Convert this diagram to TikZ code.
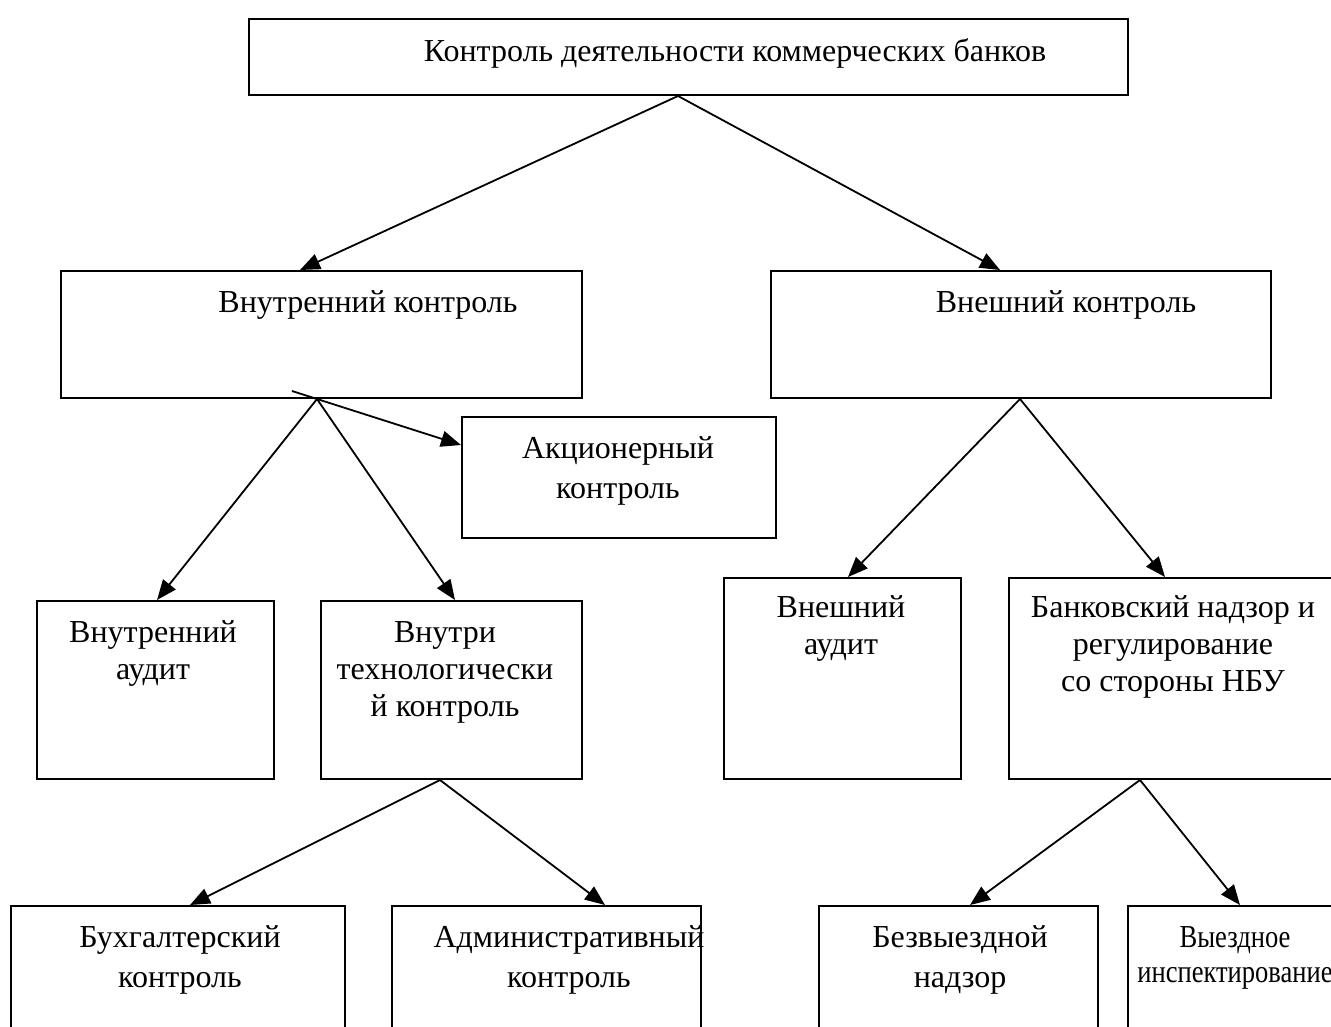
\documentclass[tikz,border=0pt]{standalone}
\usepackage{fontspec}
\setmainfont{Liberation Serif}
\usepackage{graphicx}
\usetikzlibrary{arrows.meta,calc}

\tikzset{
  box/.style={draw, line width=2pt, rectangle, anchor=north west, inner sep=0pt},
  lbl/.style={align=center, anchor=base, inner sep=0pt, font=\fontsize{32}{37}\selectfont},
  wide/.style={font=\fontsize{32}{40}\selectfont},
  link/.style={line width=1.8pt, -{Triangle[length=20pt, width=16pt]}}
}

\begin{document}
\begin{tikzpicture}[x=1pt, y=-1pt]
  \useasboundingbox (0,0) rectangle (1331,1026);
  \clip (0,0) rectangle (1331,1026);
  % boxes
  \node[box, minimum width=879pt, minimum height=76pt]  (kontrol) at (248,18) {};
  \node[box, minimum width=521pt, minimum height=127pt] (vnutr)   at (60,270) {};
  \node[box, minimum width=500pt, minimum height=127pt] (vnesh)   at (770,270) {};
  \node[box, minimum width=314pt, minimum height=121pt] (akc)     at (461,416) {};
  \node[box, minimum width=237pt, minimum height=178pt] (audin)   at (36,600) {};
  \node[box, minimum width=261pt, minimum height=178pt] (tehn)    at (320,600) {};
  \node[box, minimum width=237pt, minimum height=201pt] (audext)  at (723,577) {};
  \node[box, minimum width=340pt, minimum height=201pt] (nadzor)  at (1008,577) {};
  \node[box, minimum width=334pt, minimum height=140pt] (buh)     at (10,905) {};
  \node[box, minimum width=309pt, minimum height=140pt] (adm)     at (391,905) {};
  \node[box, minimum width=279pt, minimum height=140pt] (bezv)    at (818,905) {};
  \node[box, minimum width=220pt, minimum height=140pt] (vyezd)   at (1127,905) {};
  % texts (anchor base = last line)
  \node[lbl] (kontrol-t) at (735,61)  {Контроль деятельности коммерческих банков};
  \node[lbl] (vnutr-t)   at (368,312) {Внутренний контроль};
  \node[lbl] (vnesh-t)   at (1066,312) {Внешний контроль};
  \node[lbl, wide] (akc-t) at (618,498) {Акционерный\\контроль};
  \node[lbl] (audin-t)   at (153,679) {Внутренний\\аудит};
  \node[lbl] (tehn-t)    at (445,716) {Внутри\\технологически\\й контроль};
  \node[lbl] (audext-t)  at (841,654) {Внешний\\аудит};
  \node[lbl] (nadzor-t)  at (1173,691) {Банковский надзор и\\регулирование\\со стороны НБУ};
  \node[lbl, wide] (buh-t)  at (180,987) {Бухгалтерский\\контроль};
  \node[lbl, wide] (adm-t)  at (569,987) {Административный\\контроль};
  \node[lbl, wide] (bezv-t) at (960,987) {Безвыездной\\надзор};
  \node[lbl, font=\fontsize{32}{35}\selectfont] (vyezd-t) at (1235,982)
    {\scalebox{0.83}[1]{Выездное}\\\scalebox{0.83}[1]{инспектирование}};
  % arrows
  \draw[link] ($(kontrol.south west)+(430,0)$) -- ($(vnutr.north west)+(240,0)$);
  \draw[link] ($(kontrol.south west)+(430,0)$) -- ($(vnesh.north west)+(230,0)$);
  \draw[link] ($(vnutr.south west)+(232,-8)$) -- ($(akc.north west)+(0,29)$);
  \draw[link] ($(vnutr.south west)+(257,0)$) -- ($(audin.north west)+(121,0)$);
  \draw[link] ($(vnutr.south west)+(257,0)$) -- ($(tehn.north west)+(135,0)$);
  \draw[link] ($(vnesh.south west)+(250,0)$) -- ($(audext.north west)+(125,0)$);
  \draw[link] ($(vnesh.south west)+(250,0)$) -- ($(nadzor.north west)+(157,0)$);
  \draw[link] ($(tehn.south west)+(120,0)$) -- ($(buh.north west)+(180,0)$);
  \draw[link] ($(tehn.south west)+(120,0)$) -- ($(adm.north west)+(214,0)$);
  \draw[link] ($(nadzor.south west)+(132,0)$) -- ($(bezv.north west)+(152,0)$);
  \draw[link] ($(nadzor.south west)+(132,0)$) -- ($(vyezd.north west)+(113,0)$);
\end{tikzpicture}
\end{document}
